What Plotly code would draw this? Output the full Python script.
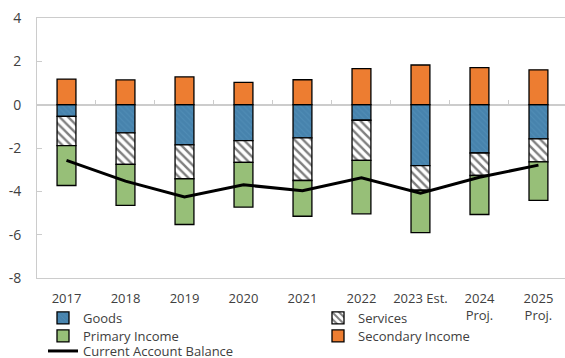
import plotly.graph_objects as go

# Current account components, percent of GDP
years = ["2017", "2018", "2019", "2020", "2021", "2022", "2023 Est.", "2024<br>Proj.", "2025<br>Proj."]
goods = [-0.54, -1.30, -1.86, -1.66, -1.53, -0.72, -2.81, -2.23, -1.58]
services = [-1.35, -1.46, -1.56, -1.00, -1.97, -1.85, -1.14, -1.04, -1.06]
primary_income = [-1.84, -1.89, -2.11, -2.07, -1.65, -2.47, -1.96, -1.80, -1.78]
secondary_income = [1.18, 1.14, 1.28, 1.03, 1.15, 1.66, 1.83, 1.71, 1.61]
current_account = [-2.57, -3.53, -4.26, -3.70, -3.97, -3.37, -4.09, -3.35, -2.79]

y_ticks = [-8, -6, -4, -2, 0, 2, 4]
y_tick_text = ["-8", "-6", "-4", "-2", "0", "2", "4"]

GRID = "#cccccc"
TEXT = "#404040"
FONT = "Open Sans"
outline = dict(color="black", width=1.3)

fig = go.Figure()
fig.add_trace(go.Bar(
    name="Goods", x=years, y=goods, legend="legend",
    marker=dict(color="#4a88b3", line=outline,
                pattern=dict(shape="\\", fgcolor="#5a97bf", bgcolor="#4783ad",
                             size=4, solidity=0.25)),
))
fig.add_trace(go.Bar(
    name="Services", x=years, y=services, legend="legend2",
    marker=dict(color="white", line=outline,
                pattern=dict(shape="\\", fgcolor="black", bgcolor="white",
                             size=6, solidity=0.4)),
))
fig.add_trace(go.Bar(
    name="Primary Income", x=years, y=primary_income, legend="legend3",
    marker=dict(color="#97bf78", line=outline),
))
fig.add_trace(go.Bar(
    name="Secondary Income", x=years, y=secondary_income, legend="legend4",
    marker=dict(color="#ed7d31", line=outline),
))
fig.add_trace(go.Scatter(
    name="Current Account Balance", x=years, y=current_account, legend="legend5",
    mode="lines", line=dict(color="black", width=3),
    xaxis="x2", yaxis="y",
))

x_range = [-0.5, 8.45]

# two-column legend grid: one single-entry legend per cell
W, H = 565, 358
col_x = [43, 318]
row_top = [303, 321, 336]


def legend_at(col, row):
    return dict(
        orientation="v", xanchor="left", yanchor="top",
        xref="container", yref="container",
        x=col_x[col] / W, y=1 - row_top[row] / H,
        font=dict(family=FONT, size=13, color=TEXT),
        bgcolor="rgba(0,0,0,0)", itemwidth=30,
    )


fig.update_layout(
    width=W, height=H,
    margin=dict(l=37, r=0, t=18, b=80, autoexpand=False),
    paper_bgcolor="white", plot_bgcolor="white",
    barmode="relative", bargap=0.68,
    font=dict(family=FONT, size=13, color=TEXT),
    showlegend=True,
    legend=legend_at(0, 0),
    legend2=legend_at(1, 0),
    legend3=legend_at(0, 1),
    legend4=legend_at(1, 1),
    legend5=legend_at(0, 2),
    xaxis=dict(
        type="category", categoryorder="array", categoryarray=years,
        range=x_range, showgrid=False, ticks="",
        showline=True, mirror=True, linecolor=GRID, linewidth=1,
        tickfont=dict(family=FONT, size=13, color=TEXT),
        ticklabelstandoff=8,
    ),
    xaxis2=dict(
        type="category", categoryorder="array", categoryarray=years,
        range=x_range, overlaying="x", anchor="free", position=8 / 12,
        showgrid=False, showline=False, showticklabels=False,
        ticks="inside", ticklen=5, tickcolor=GRID, tickwidth=1,
        tickson="boundaries",
    ),
    yaxis=dict(
        range=[-8, 4], tickmode="array", tickvals=y_ticks, ticktext=y_tick_text,
        showgrid=False, showline=True, linecolor=GRID, linewidth=1,
        ticks="inside", ticklen=5, tickcolor=GRID,
        zeroline=True, zerolinecolor=GRID, zerolinewidth=2,
        tickfont=dict(family=FONT, size=14, color=TEXT),
        ticklabelstandoff=12,
    ),
)

fig.write_html("out.html")
